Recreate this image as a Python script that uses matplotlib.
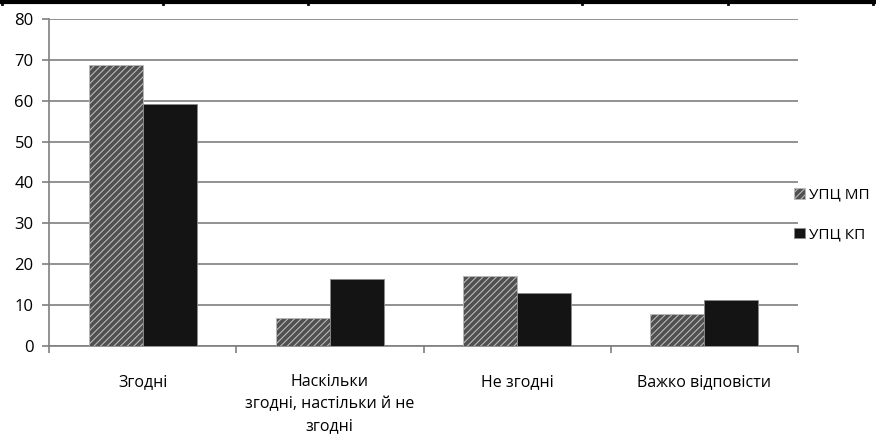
import matplotlib.pyplot as plt
import numpy as np
from matplotlib.lines import Line2D

plt.rcParams['font.family'] = ['Open Sans', 'DejaVu Sans']
plt.rcParams['hatch.linewidth'] = 0.8

categories = ["Згодні", "Наскільки\nзгодні, настільки й не\nзгодні", "Не згодні", "Важко відповісти"]
series_names = ["УПЦ МП", "УПЦ КП"]
mp_values = [68.7, 6.8, 17.2, 7.8]
kp_values = [59.2, 16.5, 13.0, 11.2]
y_ticks = [0, 10, 20, 30, 40, 50, 60, 70, 80]
table_cols = [2, 163, 308, 582, 728, 873]  # leftover table border at the top, px


def main():
  fig = plt.figure(figsize=(8.76, 4.36), dpi=100)
  ax = fig.add_axes([49 / 876, 1 - 346 / 436, 749 / 876, 327 / 436])

  x = np.arange(len(categories))
  w = 0.288
  ax.bar(x - w / 2, mp_values, w, color='#505050', edgecolor='#b8b8b8',
         hatch='/////', linewidth=0.6, label=series_names[0], zorder=3)
  ax.bar(x + w / 2, kp_values, w, color='#141414', edgecolor='#8a8a8a',
         linewidth=0.6, label=series_names[1], zorder=3)

  ax.set_xlim(-0.5, len(categories) - 0.5)
  ax.set_ylim(0, 80)
  ax.set_yticks(y_ticks)
  ax.yaxis.grid(True, color='#7f7f7f', linewidth=1.2)
  ax.set_axisbelow(True)
  for s in ['top', 'right']:
    ax.spines[s].set_visible(False)
  for s in ['left', 'bottom']:
    ax.spines[s].set_color('#7f7f7f')
    ax.spines[s].set_linewidth(1.2)

  # category labels in the middle, tick marks on the boundaries
  ax.set_xticks(np.arange(-0.5, len(categories)), minor=False)
  ax.set_xticklabels([])
  ax.set_xticks(x, minor=True)
  ax.set_xticklabels(categories, minor=True, fontsize=11.5, linespacing=1.5)
  ax.tick_params(axis='x', which='minor', length=0, pad=20)
  ax.tick_params(axis='x', which='major', length=5, color='#7f7f7f', width=1.2)
  ax.tick_params(axis='y', length=5, color='#7f7f7f', width=1.2, labelsize=12, pad=6)
  for lbl in ax.get_xticklabels(minor=True):
    lbl.set_verticalalignment('top')

  fig.legend(loc='center left', bbox_to_anchor=(788 / 876, 1 - 215 / 436),
             frameon=False, fontsize=11, handlelength=0.7, handleheight=0.7,
             handletextpad=0.3, labelspacing=1.6, borderaxespad=0)

  # top border
  W, H = 876, 436
  fig.add_artist(Line2D([0, 1], [1 - 2 / H, 1 - 2 / H], color='black', lw=3,
                        transform=fig.transFigure))
  for c in table_cols:
    fig.add_artist(Line2D([c / W, c / W], [1, 1 - 4 / H], color='black', lw=2,
                          transform=fig.transFigure))

  fig.savefig('out.png', dpi=100)


if __name__ == "__main__":
  main()
